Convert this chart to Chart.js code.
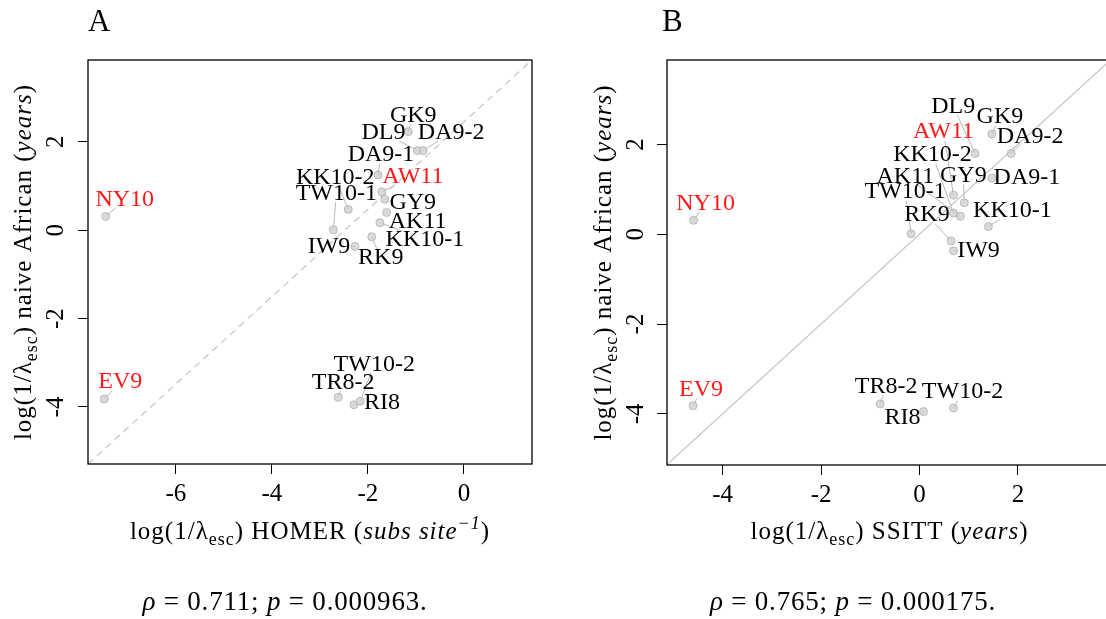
<!DOCTYPE html>
<html><head><meta charset="utf-8">
<script src="https://cdn.jsdelivr.net/npm/chart.js@4.4.0/dist/chart.umd.min.js"></script>
<style>
html,body{margin:0;padding:0;background:#fff;overflow:hidden;width:1106px;height:619px;}
#wrap{position:relative;width:1106px;height:619px;overflow:hidden;}
canvas.c{position:absolute;top:0;}
.txt{position:absolute;font-family:"Liberation Serif",serif;color:#000;white-space:nowrap;}
</style></head><body>
<div id="wrap">
<canvas id="ca" class="c" width="553" height="619" style="left:0px"></canvas>
<canvas id="cb" class="c" width="580" height="619" style="left:553px"></canvas>
<div class="txt" style="left:88px;top:3px;font-size:31px">A</div>
<div class="txt" style="left:662px;top:3px;font-size:31px">B</div>
<div class="txt" style="left:85px;width:400px;text-align:center;top:586px;font-size:27px;letter-spacing:0.8px"><i>ρ</i> = 0.711; <i>p</i> = 0.000963.</div>
<div class="txt" style="left:653px;width:400px;text-align:center;top:586px;font-size:27px;letter-spacing:0.8px"><i>ρ</i> = 0.765; <i>p</i> = 0.000175.</div>
</div>
<script>
// ---------- data ----------
const strains      = ['NY10','EV9','GK9','DL9','DA9-2','DA9-1','AW11','KK10-2','GY9','AK11','KK10-1','TW10-1','RK9','IW9','TR8-2','RI8','TW10-2'];
const naiveAfrican = [0.31,-3.82,2.23,1.80,1.80,1.25,0.87,0.47,0.70,0.40,0.17,0.01,-0.15,-0.37,-3.78,-3.95,-3.87];
const homerEsc     = [-7.46,-7.49,-1.16,-0.97,-0.85,-1.79,-1.71,-2.41,-1.65,-1.61,-1.75,-2.72,-1.92,-2.27,-2.62,-2.29,-2.16];
const ssittEsc     = [-4.59,-4.60,1.47,1.13,1.86,1.47,0.69,0.69,0.91,0.83,1.40,-0.17,0.64,0.69,-0.80,0.08,0.69];
const redStrains   = ['NY10','EV9','AW11'];
const homerTicks   = [-6,-4,-2,0];
const ssittTicks   = [-4,-2,0,2];
const naiveTicks   = [-4,-2,0,2];

// ---------- layout (label offsets in pixels, axis ranges) ----------
const offsetsA = [[19,-17],[16,-17],[5,-16],[-34,-18],[28,-18],[3,-20],[31,-15],[-13,-32],[28,3],[31,9],[45,17],[3,-36],[9,21],[-26,0],[5,-15],[28,-2],[14,-37]];
const offsetsB = [[12,-17],[8,-16],[8,-17],[-22,-47],[19,-17],[35,0],[-10,-63],[-21,-58],[-1,-27],[-55,-40],[24,-16],[-6,-42],[-24,-26],[25,0],[6,-17],[-21,6],[9,-16]];
const rangeA = {xmin:-7.83, xmax:1.417, ymin:-5.29, ymax:3.85};
const rangeB = {xmin:-5.13, xmax:3.91, ymin:-5.14, ymax:3.88};

const FAM = '"Liberation Serif", "Times New Roman", serif';

function drawRich(ctx, segs, x, y, size, rotate, spacing) {
  const fontFor = s => ((s==='i'||s==='isup')?'italic ':'') + ((s==='sub'||s==='isup')?Math.round(size*0.72):size) + 'px ' + FAM;
  ctx.save();
  ctx.letterSpacing = spacing + 'px';
  let w = 0; const ws = [];
  segs.forEach(([t,s]) => { ctx.font = fontFor(s); const m = ctx.measureText(t).width; ws.push(m); w += m; });
  ctx.translate(x, y);
  if (rotate) ctx.rotate(-Math.PI/2);
  ctx.fillStyle = '#000'; ctx.textBaseline = 'alphabetic'; ctx.textAlign = 'left';
  let cx = -w/2;
  segs.forEach(([t,s], i) => {
    ctx.font = fontFor(s);
    const dy = s==='sub' ? size*0.22 : (s==='isup' ? -size*0.42 : 0);
    ctx.fillText(t, cx, dy);
    cx += ws[i];
  });
  ctx.restore();
}

const annotPlugin = {
  id: 'annot',
  beforeDatasetsDraw(chart) {
    const o = chart.options.plugins.annot;
    const ctx = chart.ctx;
    const meta = chart.getDatasetMeta(0);
    ctx.save();
    ctx.font = o.labelSize + 'px ' + FAM;
    ctx.strokeStyle = 'rgba(175,175,175,0.9)';
    ctx.lineWidth = 1;
    meta.data.forEach((pt, i) => {
      const [dx, dy] = o.offsets[i];
      const lx = pt.x + dx, ly = pt.y + dy;
      const hw = ctx.measureText(strains[i]).width/2 + 1;
      const hh = o.labelSize*0.36;
      const ddx = pt.x - lx, ddy = pt.y - ly;
      let u = Infinity;
      if (Math.abs(ddx) > 0) u = Math.min(u, hw/Math.abs(ddx));
      if (Math.abs(ddy) > 0) u = Math.min(u, hh/Math.abs(ddy));
      if (u < 1) {
        ctx.beginPath();
        ctx.moveTo(pt.x, pt.y);
        ctx.lineTo(lx + u*ddx, ly + u*ddy);
        ctx.stroke();
      }
    });
    ctx.restore();
  },
  afterDatasetsDraw(chart) {
    const o = chart.options.plugins.annot;
    const ctx = chart.ctx;
    const meta = chart.getDatasetMeta(0);
    ctx.save();
    ctx.font = o.labelSize + 'px ' + FAM;
    ctx.textAlign = 'center'; ctx.textBaseline = 'middle';
    meta.data.forEach((pt, i) => {
      const [dx, dy] = o.offsets[i];
      ctx.fillStyle = redStrains.includes(strains[i]) ? '#ff1a1a' : '#000';
      ctx.fillText(strains[i], pt.x + dx, pt.y + dy);
    });
    ctx.restore();
  },
  afterDraw(chart) {
    const o = chart.options.plugins.annot;
    const ctx = chart.ctx, a = chart.chartArea;
    const ys = chart.scales.y;
    ctx.save();
    ctx.strokeStyle = '#000'; ctx.lineWidth = 1.3;
    ctx.strokeRect(a.left, a.top, a.right - a.left, a.bottom - a.top);
    // rotated y tick labels
    ctx.fillStyle = '#000';
    ctx.font = o.tickSize + 'px ' + FAM;
    ctx.textAlign = 'center'; ctx.textBaseline = 'alphabetic';
    naiveTicks.forEach(v => {
      const y = ys.getPixelForValue(v);
      ctx.save(); ctx.translate(o.yTickX, y); ctx.rotate(-Math.PI/2);
      ctx.fillText(String(v), 0, 0);
      ctx.restore();
    });
    ctx.restore();
    drawRich(ctx, o.xTitle, (a.left + a.right)/2, o.xTitleY, o.titleSize, false, 1);
    drawRich(ctx, o.yTitle, o.yTitleX, (a.top + a.bottom)/2, o.titleSize, true, 1);
  }
};

function makeChart(id, xs, xTicks, range, diag, opts) {
  const pts = xs.map((x, i) => ({x: x, y: naiveAfrican[i]}));
  return new Chart(document.getElementById(id), {
    type: 'scatter',
    data: { datasets: [
      { data: pts, pointRadius: 4, pointHoverRadius: 4,
        backgroundColor: 'rgba(205,205,205,0.75)', borderColor: 'rgba(175,175,175,0.8)', borderWidth: 1, order: 0 },
      { type: 'line', data: diag, borderColor: '#c4c4c4', borderWidth: 1.2, borderDash: opts.dash,
        pointRadius: 0, fill: false, order: 1 }
    ]},
    options: {
      responsive: false, animation: false, devicePixelRatio: 1,
      layout: { padding: { left: 0, top: 60, right: opts.padRight, bottom: 0 } },
      plugins: { legend: { display: false }, tooltip: { enabled: false },
        annot: { offsets: opts.offsets, labelSize: 24, tickSize: 25, titleSize: 25,
                 xTitle: opts.xTitle, yTitle: opts.yTitle, xTitleY: 539, yTitleX: opts.yTitleX, yTickX: opts.yTickX } },
      scales: {
        x: { type: 'linear', min: range.xmin, max: range.xmax,
             afterBuildTicks: s => { s.ticks = xTicks.map(v => ({value: v})); },
             afterFit: s => { s.height = 619 - opts.bottom; },
             grid: { drawOnChartArea: false, drawTicks: true, tickLength: 10, color: '#000', lineWidth: 1 },
             border: { display: false },
             ticks: { color: '#000', font: { family: FAM, size: 25 }, padding: 5, maxRotation: 0, autoSkip: false } },
        y: { type: 'linear', min: range.ymin, max: range.ymax,
             afterBuildTicks: s => { s.ticks = naiveTicks.map(v => ({value: v})); },
             afterFit: s => { s.width = opts.left; },
             grid: { drawOnChartArea: false, drawTicks: true, tickLength: 10, color: '#000', lineWidth: 1 },
             border: { display: false },
             ticks: { display: false } }
      }
    },
    plugins: [annotPlugin]
  });
}

const yTitle = [['log(1/λ','n'],['esc','sub'],[') naive African (','n'],['years','i'],[')','n']];

makeChart('ca', homerEsc, homerTicks, rangeA,
  [{x: rangeA.xmin, y: rangeA.ymin}, {x: rangeA.xmax, y: rangeA.ymax}],
  { dash: [7,5], padRight: 553 - 532, left: 88, bottom: 464, offsets: offsetsA,
    xTitle: [['log(1/λ','n'],['esc','sub'],[') HOMER (','n'],['subs site','i'],['−1','isup'],[')','n']],
    yTitle: yTitle, yTitleX: 31, yTickX: 63 });

makeChart('cb', ssittEsc, ssittTicks, rangeB,
  [{x: -6, y: -6}, {x: 5, y: 5}],
  { dash: [], padRight: 580 - 559, left: 114, bottom: 465, offsets: offsetsB,
    xTitle: [['log(1/λ','n'],['esc','sub'],[') SSITT (','n'],['years','i'],[')','n']],
    yTitle: yTitle, yTitleX: 58, yTickX: 90 });
</script>
</body></html>
